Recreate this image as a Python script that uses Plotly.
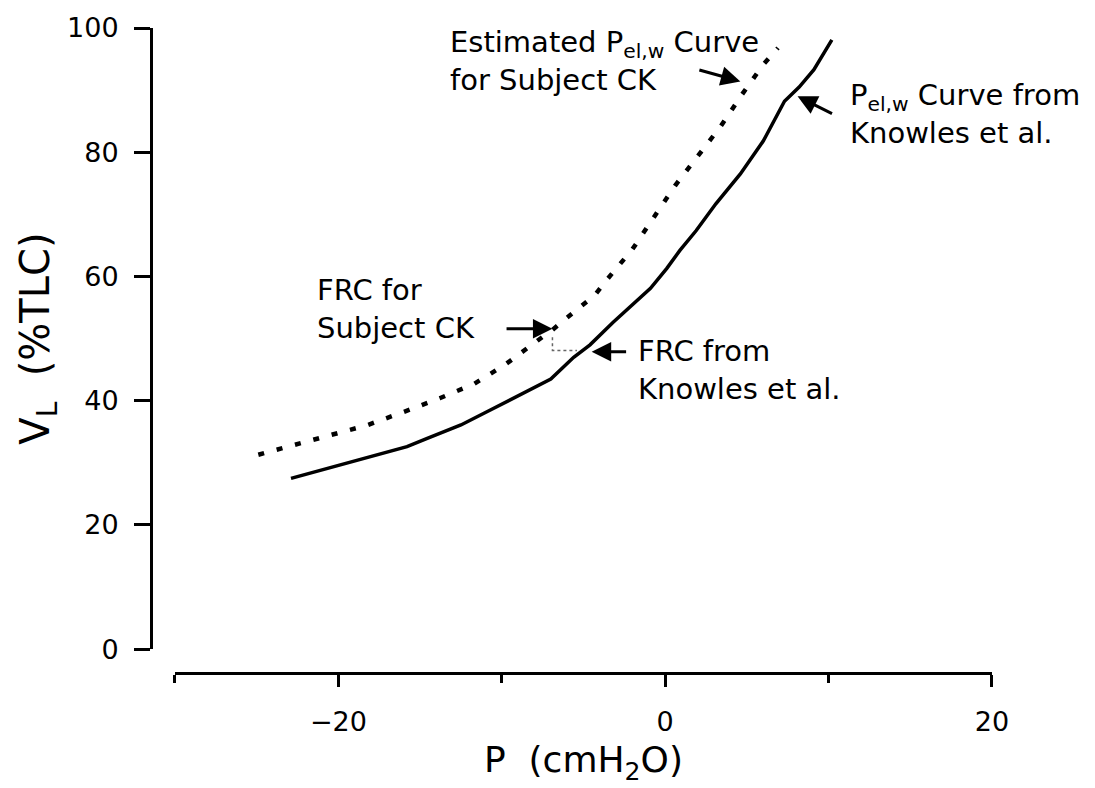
import plotly.graph_objects as go

# Pressure (cmH2O) and lung volume (%TLC) along the Knowles et al. P_el,w curve
knowles_p = [-22.9, -18.7, -15.8, -14.6, -12.5, -10.7, -8.9, -7.0, -5.6, -4.6,
             -3.2, -2.0, -0.9, 0.1, 0.9, 1.9, 3.1, 4.6, 6.0, 7.3, 8.2, 9.1, 10.2]
knowles_v = [27.5, 30.5, 32.6, 33.9, 36.1, 38.5, 40.9, 43.5, 47.0, 49.0,
             52.6, 55.4, 58.1, 61.3, 64.2, 67.4, 71.7, 76.5, 81.8, 88.2, 90.5, 93.3, 98.1]

# Estimated P_el,w curve for subject CK
ck_p = [-24.9, -22.6, -20.4, -18.2, -16.0, -13.8, -11.7, -9.8, -7.8, -6.9, -6.0,
        -5.1, -4.3, -3.5, -2.0, -0.7, 0.6, 2.0, 3.4, 4.7, 6.0, 6.9]
ck_v = [31.3, 32.9, 34.5, 36.1, 38.2, 40.4, 42.7, 45.8, 49.7, 51.4, 53.4,
        55.3, 57.0, 59.7, 64.4, 69.5, 74.6, 79.4, 84.2, 89.3, 94.1, 96.8]

# FRC points and the connector between them
frc_ck = (-6.9, 50.2)
frc_knowles = (-5.4, 48.1)

x_ticks = [-20, 0, 20]
x_ticktext = ["\u221220", "0", "20"]
x_minor = [-30, -10, 10]
y_ticks = [0, 20, 40, 60, 80, 100]

FONT = "DejaVu Sans"

fig = go.Figure()

fig.add_trace(go.Scatter(
    x=knowles_p, y=knowles_v, mode="lines",
    line=dict(color="black", width=3.5), hoverinfo="skip"))

fig.add_trace(go.Scatter(
    x=ck_p, y=ck_v, mode="lines",
    line=dict(color="black", width=4.5, dash="6px,13px"), hoverinfo="skip"))

fig.add_trace(go.Scatter(
    x=[frc_ck[0], frc_ck[0], frc_knowles[0]],
    y=[frc_ck[1], frc_knowles[1], frc_knowles[1]], mode="lines",
    line=dict(color="#666666", width=1.5, dash="dot"), hoverinfo="skip"))

labels = [
    dict(x=-13.3, y=94.7, text="Estimated P<sub>el,w</sub> Curve<br>for Subject CK"),
    dict(x=11.2, y=86.1, text="P<sub>el,w</sub> Curve from<br>Knowles et al."),
    dict(x=-21.4, y=54.8, text="FRC for<br>Subject CK"),
    dict(x=-1.8, y=45.0, text="FRC from<br>Knowles et al."),
]
for lab in labels:
    fig.add_annotation(x=lab["x"], y=lab["y"], text=lab["text"], showarrow=False,
                       xanchor="left", yanchor="middle", align="left",
                       font=dict(family=FONT, size=29, color="black"))

arrows = [
    # (tail_x, tail_y, tip_x, tip_y)
    (2.0, 93.3, 4.6, 91.4),
    (10.3, 86.1, 8.1, 89.0),
    (-9.8, 51.6, -6.9, 51.6),
    (-2.3, 47.9, -4.5, 47.9),
]
for tx, ty, hx, hy in arrows:
    fig.add_annotation(x=hx, y=hy, ax=tx, ay=ty, axref="x", ayref="y",
                       text="", showarrow=True, arrowhead=2, arrowsize=1.3,
                       arrowwidth=3, arrowcolor="black", standoff=0, startstandoff=0)

fig.update_layout(
    width=1095, height=788,
    margin=dict(l=151, r=103, t=23, b=115),
    paper_bgcolor="white", plot_bgcolor="white",
    showlegend=False,
    font=dict(family=FONT, size=27, color="black"),
    xaxis=dict(
        domain=[0.0285, 1], range=[-30, 20], anchor="free", position=0,
        showline=True, linecolor="black", linewidth=3, showgrid=False, zeroline=False,
        ticks="outside", tickvals=x_ticks, ticktext=x_ticktext, ticklen=12, tickwidth=2.5,
        tickcolor="black", ticklabelstandoff=12,
        minor=dict(tickvals=x_minor, ticks="outside", ticklen=8, tickwidth=2.5, tickcolor="black"),
        title=dict(text="P\u00a0 (cmH<sub>2</sub>O)", font=dict(family=FONT, size=36), standoff=10),
    ),
    yaxis=dict(
        domain=[0.0369, 1], range=[0, 100], anchor="free", position=0,
        showline=True, linecolor="black", linewidth=3, showgrid=False, zeroline=False,
        ticks="outside", tickvals=y_ticks, ticklen=16, tickwidth=2.5, tickcolor="black",
        ticklabelstandoff=10,
        title=dict(text="V<sub>L</sub>\u00a0 (%TLC)", font=dict(family=FONT, size=40), standoff=4),
    ),
)

fig.write_html("out.html")
